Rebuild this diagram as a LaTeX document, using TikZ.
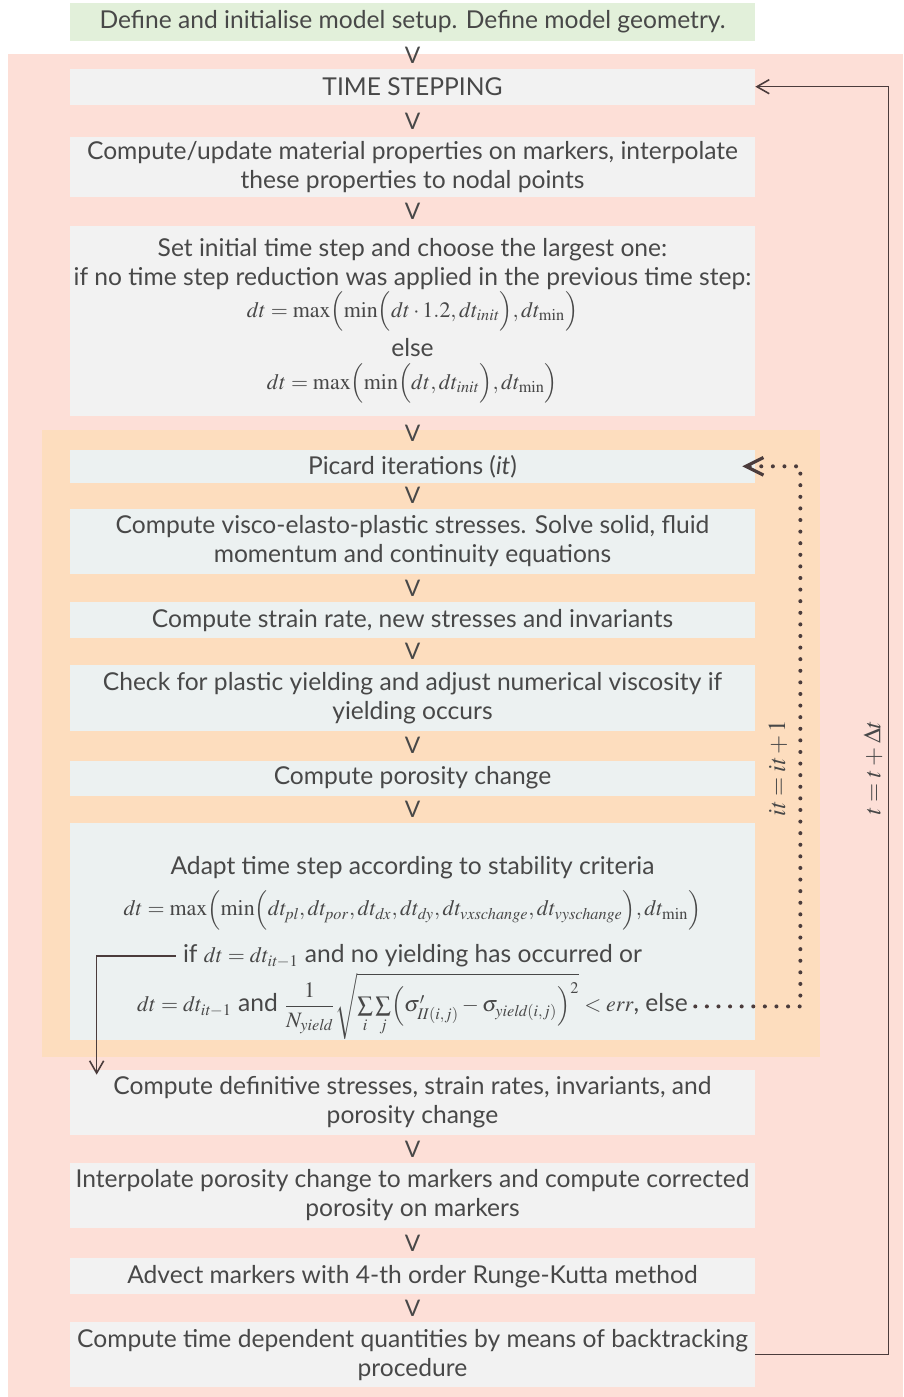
\documentclass[tikz,border=0pt]{standalone}
\usepackage{mathptmx}
\usepackage[no-math]{fontspec}
\setmainfont{Lato}
\usepackage{xcolor}
\usetikzlibrary{arrows.meta, positioning, backgrounds, calc}

\definecolor{setupgreen}{RGB}{226,240,218}
\definecolor{looppink}{RGB}{253,223,215}
\definecolor{picardpeach}{RGB}{253,221,190}
\definecolor{stepgray}{RGB}{242,242,242}
\definecolor{itergray}{RGB}{236,241,241}
\definecolor{textgray}{RGB}{72,72,72}
\definecolor{linebrown}{RGB}{75,60,60}

% formulas a bit smaller than the running text
\newcommand{\fml}[1]{{\fontsize{12.5}{15}\selectfont$#1$}}

\begin{document}
\begin{tikzpicture}[
    node distance=0.56cm,
    every node/.style={text=textgray},
    block/.style={rectangle, fill=stepgray, align=center, minimum width=13.7cm, minimum height=0.72cm, inner sep=1pt, font=\fontsize{14}{16.5}\selectfont},
    iterblock/.style={block, fill=itergray},
    txt/.style={inner sep=1pt, anchor=base, font=\fontsize{14}{16.5}\selectfont},
    chevron/.style={inner sep=0pt, font=\fontsize{13}{13}\selectfont},
    loopline/.style={draw=linebrown, line width=0.9pt, -{Straight Barb[length=7pt, width=8pt]}},
    dotline/.style={draw=linebrown, line width=2.3pt, line cap=round, dash pattern=on 0pt off 6.6pt, -{Straight Barb[length=10pt, width=10pt, line width=1.8pt]}}
]
\useasboundingbox (0,0) rectangle (18.06,-27.94);

\node[block, fill=setupgreen, minimum height=0.76cm] (setup) at (8.25,-0.44) {Define and initialise model setup. Define model geometry.};
\node[block, below=0.54cm of setup] (tstep) {TIME STEPPING};
\node[block, below=0.64cm of tstep, minimum height=1.2cm] (props) {Compute/update material properties on markers, interpolate\\these properties to nodal points};
\node[block, below=of props, minimum height=3.8cm] (init) {Set initial time step and choose the largest one:\\if no time step reduction was applied in the previous time step:\\
  \fml{dt=\max\Bigl(\min\Bigl(dt\cdot 1.2,dt_{\mathit{init}}\Bigr),dt_{\min}\Bigr)}\\[3pt]else\\[2pt]
  \fml{dt=\max\Bigl(\min\Bigl(dt,dt_{\mathit{init}}\Bigr),dt_{\min}\Bigr)}};

% Picard loop
\node[iterblock, below=0.66cm of init, minimum height=0.66cm] (picard) {Picard iterations (\textit{it})};
\node[iterblock, below=0.5cm of picard, minimum height=1.3cm] (visco) {Compute visco-elasto-plastic stresses. Solve solid, fluid\\momentum and continuity equations};
\node[iterblock, below=of visco] (strain) {Compute strain rate, new stresses and invariants};
\node[iterblock, below=0.52cm of strain, minimum height=1.32cm] (plastic) {Check for plastic yielding and adjust numerical viscosity if\\yielding occurs};
\node[iterblock, below=0.58cm of plastic, minimum height=0.7cm] (poro) {Compute porosity change};
\node[iterblock, below=0.54cm of poro, minimum height=4.34cm] (adapt) {};
\node[txt] (adapttitle) at ($(adapt.north)+(0,-1.04)$) {Adapt time step according to stability criteria};
\node[txt] (adaptmath) at ($(adapt.north)+(0,-1.86)$) {\fml{dt=\max\Bigl(\min\Bigl(dt_{\mathit{pl}},dt_{\mathit{por}},dt_{\mathit{dx}},dt_{\mathit{dy}},dt_{\mathit{vxschange}},dt_{\mathit{vyschange}}\Bigr),dt_{\min}\Bigr)}};
\node[txt] (ifline) at ($(adapt.north)+(0,-2.8)$) {if \fml{dt=dt_{\mathit{it}-1}} and no yielding has occurred or};
\node[txt] (elseline) at ($(adapt.north)+(0,-3.78)$) {\fml{dt=dt_{\mathit{it}-1}} and \fml{\displaystyle\frac{1}{N_{\mathit{yield}}}\sqrt{\textstyle\sum\limits_i\sum\limits_j\Bigl(\sigma'_{\mathit{II}(i,j)}-\sigma_{\mathit{yield}(i,j)}\Bigr)^{2}}<\mathit{err}}, else};

\node[block, below=0.58cm of adapt, minimum height=1.3cm] (defin) {Compute definitive stresses, strain rates, invariants, and\\porosity change};
\node[block, below=0.54cm of defin, minimum height=1.3cm] (interp) {Interpolate porosity change to markers and compute corrected\\porosity on markers};
\node[block, below=0.6cm of interp] (advect) {Advect markers with 4-th order Runge-Kutta method};
\node[block, below=0.54cm of advect, minimum height=1.3cm] (backtr) {Compute time dependent quantities by means of backtracking\\procedure};

\begin{scope}[on background layer]
\fill[looppink] ($(tstep.north west)+(-1.24,0.28)$) rectangle (18.06,-27.94);
\fill[picardpeach] ($(picard.north west)+(-0.56,0.38)$) rectangle ($(adapt.south east)+(1.3,-0.32)$);
\end{scope}

\foreach \a/\b in {setup/tstep, tstep/props, props/init, init/picard, picard/visco, visco/strain, strain/plastic, plastic/poro, poro/adapt, defin/interp, interp/advect, advect/backtr}
  \path (\a.south) -- (\b.north) node[chevron, midway] (v-\b) {V};

% loops
\coordinate (itcorner) at ($(picard.east)+(0.9,0)$);
\draw[dotline] ([xshift=3pt]elseline.east) -| (itcorner) -- ([xshift=-0.26cm]picard.east);
\draw[loopline] (backtr.east) -- ++(2.66,0) |- (tstep.east);
\draw[loopline] ([xshift=-3pt]ifline.west) -| ($(defin.north west)+(0.54,-0.1)$);

\node[rotate=90, font=\fontsize{14}{14}\selectfont] (itlabel) at (15.56,-15.36) {$\mathit{it}=\mathit{it}+1$};
\node[rotate=90, font=\fontsize{14}{14}\selectfont] (tlabel) at (17.46,-15.36) {$t=t+\Delta t$};
\end{tikzpicture}
\end{document}
